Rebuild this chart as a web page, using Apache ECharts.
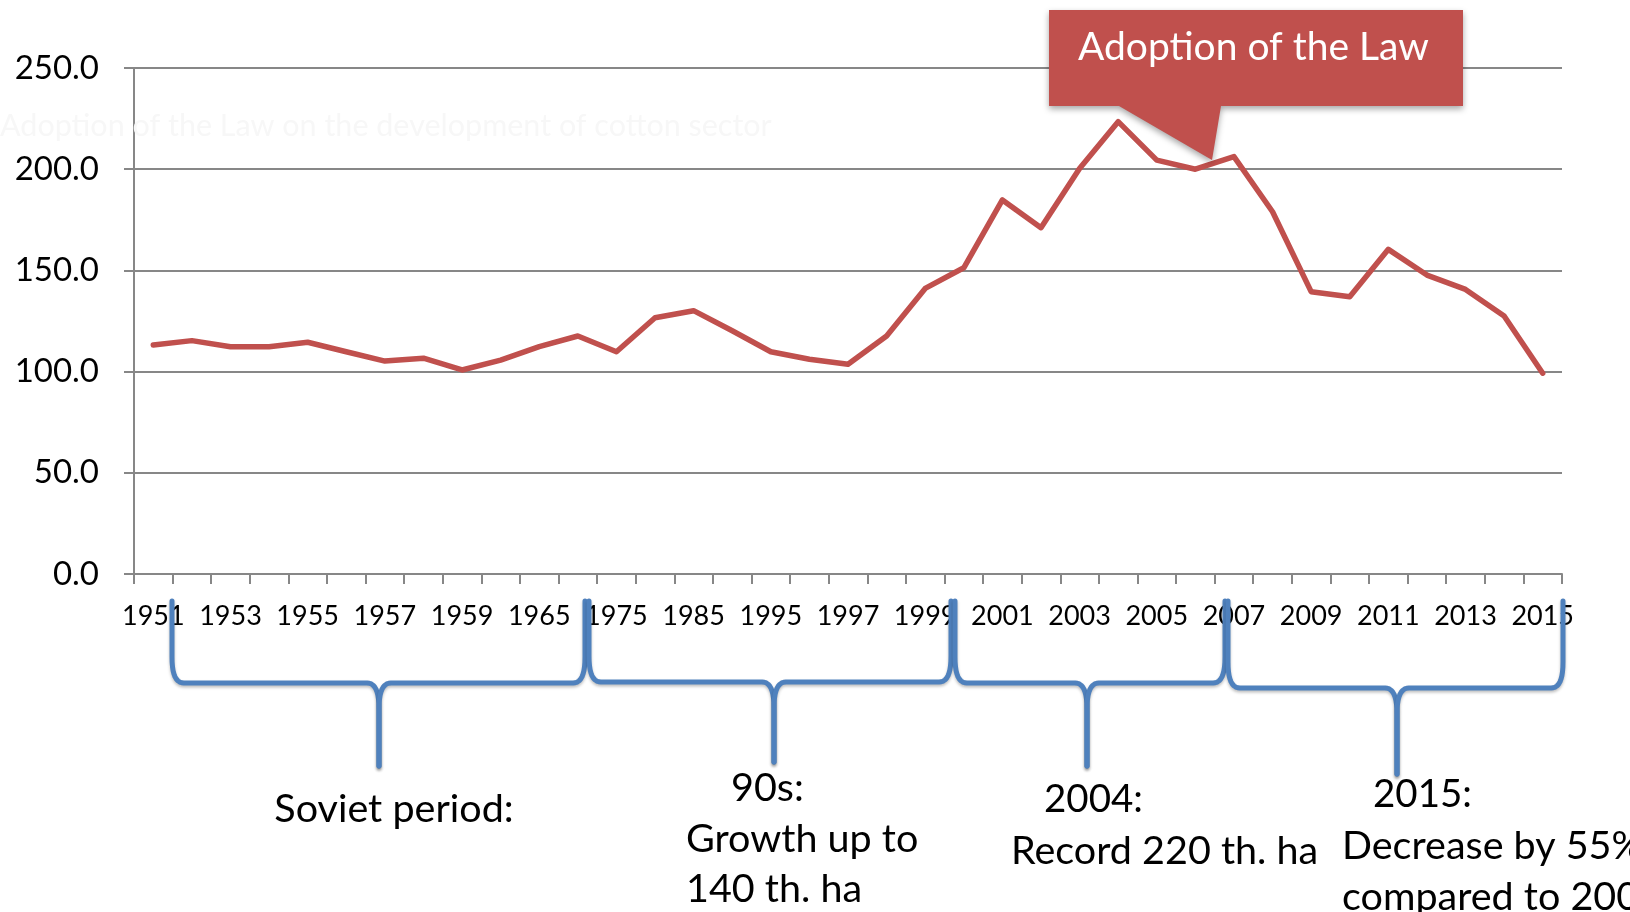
<!DOCTYPE html>
<html>
<head>
<meta charset="utf-8">
<script src="https://cdn.jsdelivr.net/npm/echarts@6/dist/echarts.min.js"></script>
<style>
html,body{margin:0;padding:0;background:#fff;}
#chart{width:1630px;height:912px;}
</style>
</head>
<body>
<div id="chart"></div>
<script>
// ---- data ----
const years = ['1951','1952','1953','1954','1955','1956','1957','1958','1959','1960',
  '1965','1970','1975','1980','1985','1990',
  '1995','1996','1997','1998','1999','2000','2001','2002','2003','2004','2005',
  '2006','2007','2008','2009','2010','2011','2012','2013','2014','2015'];
const area = [113.1,115.3,112.3,112.3,114.5,109.8,105.2,106.6,100.8,105.7,
  112.3,117.6,109.8,126.6,130.1,120.2,
  109.8,106.1,103.6,117.6,141.1,151.3,184.8,171.1,200.4,223.5,204.5,
  200.0,206.2,179.0,139.5,137.0,160.4,147.7,140.6,127.5,99.2];
const yTicks = [0, 50, 100, 150, 200, 250];
const calloutText = 'Adoption of the Law';
const ghostText = 'Adoption of the Law on the development of cotton sector';
const periodNotes = [
  ['Soviet period:'],
  ['90s:', 'Growth up to', '140 th. ha'],
  ['2004:', 'Record 220 th. ha'],
  ['2015:', 'Decrease by 55%', 'compared to 2007']
];

const FONT = 'Lato, "Open Sans", sans-serif';
const chart = echarts.init(document.getElementById('chart'), null, {renderer: 'canvas'});

function bez(p0, p1, p2, p3, n) {
  const out = [];
  for (let i = 1; i <= n; i++) {
    const t = i / n, u = 1 - t;
    out.push([
      u*u*u*p0[0] + 3*u*u*t*p1[0] + 3*u*t*t*p2[0] + t*t*t*p3[0],
      u*u*u*p0[1] + 3*u*u*t*p1[1] + 3*u*t*t*p2[1] + t*t*t*p3[1]
    ]);
  }
  return out;
}
// half brace: from arm top (xa) to the middle point (xm); dir = +1 left half, -1 right half
function halfBrace(xa, xm, yh, yb, yt, dir) {
  let pts = [[xa, yt], [xa, yh - 26]];
  pts = pts.concat(bez([xa, yh - 26], [xa, yh - 8], [xa + 4*dir, yh], [xa + 12*dir, yh], 10));
  pts.push([xm - 12*dir, yh]);
  pts = pts.concat(bez([xm - 12*dir, yh], [xm - 4*dir, yh], [xm, yh + 8], [xm, yh + 26], 10));
  pts.push([xm, yb]);
  return pts;
}

const braces = [
  [172, 585, 379, 683, 766],
  [589, 951, 774, 682, 762],
  [955, 1225, 1087, 683, 766],
  [1228, 1563, 1397, 688, 774]
];

const graphics = [];
// ghost text
graphics.push({type: 'text', x: 0, y: 126, z: 1, silent: true,
  style: {text: ghostText, fill: '#f7f7f7', fontSize: 30.5, fontFamily: FONT, align: 'left', verticalAlign: 'middle'}});
// callout
graphics.push({type: 'polygon', z: 20, silent: true,
  shape: {points: [[1049,10],[1463,10],[1463,106],[1221,106],[1212,160],[1119,106],[1049,106]]},
  style: {fill: '#c0504d', shadowColor: 'rgba(0,0,0,0.35)', shadowBlur: 6, shadowOffsetX: 0, shadowOffsetY: 3}});
graphics.push({type: 'text', x: 1078, y: 47, z: 21, silent: true,
  style: {text: calloutText, fill: '#ffffff', fontSize: 39, fontFamily: FONT, align: 'left', verticalAlign: 'middle'}});
// braces
braces.forEach(function (b) {
  [halfBrace(b[0], b[2], b[3], b[4], 601, 1), halfBrace(b[1], b[2], b[3], b[4], 601, -1)].forEach(function (pts) {
    graphics.push({type: 'polyline', z: 30, silent: true,
      shape: {points: pts},
      style: {fill: null, stroke: '#4f81bd', lineWidth: 5, lineCap: 'round', lineJoin: 'round',
        shadowColor: 'rgba(0,0,0,0.25)', shadowBlur: 3, shadowOffsetY: 2}});
  });
});
// period notes
const notePos = [
  [[394, 809, 'center', 39.5]],
  [[731, 788, 'left', 39.5], [686, 839, 'left', 39.5], [686, 889, 'left', 39.5]],
  [[1044, 800, 'left', 38.5], [1011, 851, 'left', 39.5]],
  [[1373, 795, 'left', 38.5], [1342, 846, 'left', 39.5], [1342, 897, 'left', 39.5]]
];
periodNotes.forEach(function (lines, i) {
  lines.forEach(function (t, j) {
    const p = notePos[i][j];
    graphics.push({type: 'text', x: p[0], y: p[1], z: 25, silent: true,
      style: {text: t, fill: '#000000', fontSize: p[3], fontFamily: FONT, align: p[2], verticalAlign: 'middle'}});
  });
});

const option = {
  animation: false,
  backgroundColor: '#ffffff',
  grid: {left: 134, right: 68, top: 68, bottom: 338, containLabel: false},
  xAxis: {
    type: 'category',
    data: years,
    boundaryGap: true,
    axisLine: {show: true, lineStyle: {color: '#878787', width: 2}},
    axisTick: {show: true, interval: 0, length: 10, lineStyle: {color: '#878787', width: 2}},
    axisLabel: {interval: 1, margin: 29, color: '#000', fontSize: 27, fontFamily: FONT},
    splitLine: {show: false}
  },
  yAxis: {
    type: 'value',
    min: yTicks[0],
    max: yTicks[yTicks.length - 1],
    interval: yTicks[1] - yTicks[0],
    axisLine: {show: true, lineStyle: {color: '#878787', width: 2}},
    axisTick: {show: true, length: 10, lineStyle: {color: '#878787', width: 2}},
    axisLabel: {margin: 35, color: '#000', fontSize: 33, fontFamily: FONT, padding: [3, 0, 0, 0],
      formatter: function (v) { return v.toFixed(1); }},
    splitLine: {show: true, lineStyle: {color: '#878787', width: 2}}
  },
  series: [{
    type: 'line',
    data: area,
    symbol: 'none',
    smooth: false,
    z: 5,
    lineStyle: {color: '#c0504d', width: 5.5, join: 'round', cap: 'round'}
  }],
  graphic: graphics
};
chart.setOption(option);
</script>
</body>
</html>
